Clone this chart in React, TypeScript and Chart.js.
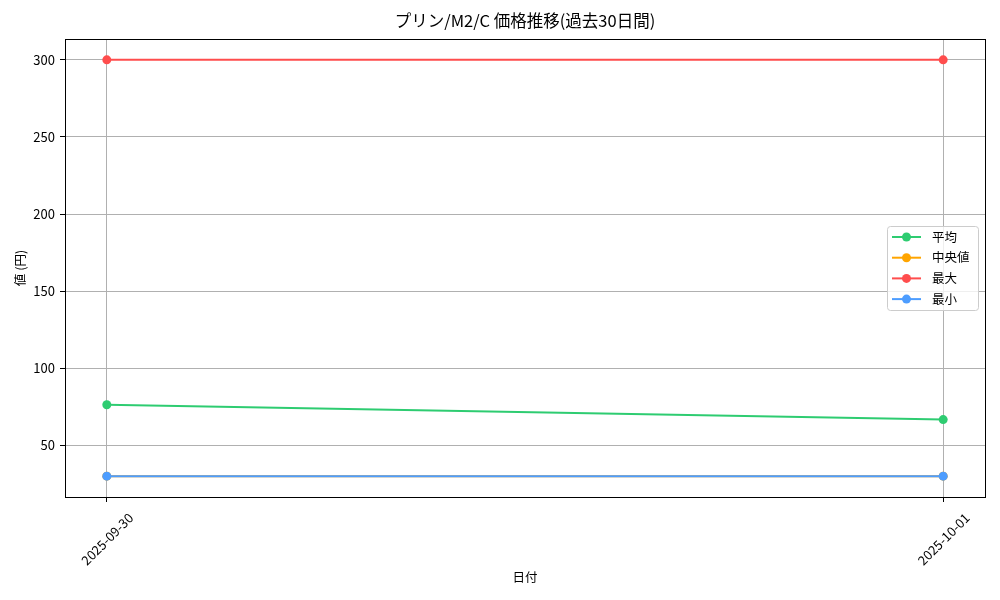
import { useEffect, useRef } from "react";
import { Chart, registerables } from "chart.js";

Chart.register(...registerables);

// data
const dates = ["2025-09-30", "2025-10-01"];
const avgValues = [76.3, 66.7];
const medianValues = [30, 30];
const maxValues = [300, 300];
const minValues = [30, 30];
const yTicks = [50, 100, 150, 200, 250, 300];

const seriesLabels = ["平均", "中央値", "最大", "最小"];
const seriesColors = ["#2ecc71", "#ffa500", "#ff4d4d", "#4d9dff"];

const TITLE = "プリン/M2/C 価格推移(過去30日間)";
const FONT = "'Noto Sans CJK JP', sans-serif";
const MARKER = 4.5;

// title centred over the plot area (matplotlib style)
const plotTitle = {
  id: "plotTitle",
  afterDraw(chart: any) {
    const { ctx, chartArea: a } = chart;
    ctx.save();
    ctx.font = `16.5px ${FONT}`;
    ctx.fillStyle = "#000";
    ctx.textAlign = "center";
    ctx.textBaseline = "middle";
    ctx.fillText(TITLE, (a.left + a.right) / 2, 21);
    ctx.restore();
  },
};

// frame around the plot, like matplotlib's spines
const framePlugin = {
  id: "frame",
  afterDraw(chart: any) {
    const { ctx, chartArea: a } = chart;
    ctx.save();
    ctx.strokeStyle = "#000";
    ctx.lineWidth = 1;
    ctx.strokeRect(Math.round(a.left) + 0.5, Math.round(a.top) + 0.5, Math.round(a.width), Math.round(a.height));
    ctx.restore();
  },
};

// legend inside the plot, right side, vertically centred
const insideLegend = {
  id: "insideLegend",
  afterDraw(chart: any) {
    const { ctx, chartArea: a } = chart;
    const rowH = 20.7;
    const w = 91;
    const h = 84;
    const x = a.right - 7 - w;
    const y = (a.top + a.bottom) / 2 - h / 2;
    ctx.save();
    ctx.beginPath();
    ctx.roundRect(x + 0.5, y + 0.5, w, h, 3);
    ctx.fillStyle = "rgba(255,255,255,0.8)";
    ctx.fill();
    ctx.strokeStyle = "#cccccc";
    ctx.lineWidth = 1;
    ctx.stroke();
    ctx.font = `12.5px ${FONT}`;
    ctx.textBaseline = "middle";
    seriesLabels.forEach((label, i) => {
      const cy = y + 11 + i * rowH;
      ctx.strokeStyle = seriesColors[i];
      ctx.lineWidth = 2;
      ctx.beginPath();
      ctx.moveTo(x + 5, cy);
      ctx.lineTo(x + 34, cy);
      ctx.stroke();
      ctx.beginPath();
      ctx.arc(x + 19.5, cy, MARKER, 0, Math.PI * 2);
      ctx.fillStyle = seriesColors[i];
      ctx.fill();
      ctx.fillStyle = "#000";
      ctx.fillText(label, x + 45, cy);
    });
    ctx.restore();
  },
};

export default function App() {
  const canvasRef = useRef<HTMLCanvasElement | null>(null);
  const chartRef = useRef<Chart | null>(null);

  useEffect(() => {
    if (!canvasRef.current) return;
    Chart.defaults.font.family = FONT;
    Chart.defaults.color = "#000";

    const toPoints = (vals: number[]) => vals.map((v, i) => ({ x: i, y: v }));
    const allSeries = [avgValues, medianValues, maxValues, minValues];

    const datasets = allSeries.map((vals, i) => ({
      label: seriesLabels[i],
      data: toPoints(vals),
      borderColor: seriesColors[i],
      backgroundColor: seriesColors[i],
      borderWidth: 2,
      pointRadius: MARKER,
      pointBorderWidth: 0,
      pointHoverRadius: MARKER,
      order: allSeries.length - i, // later series on top
    }));

    chartRef.current = new Chart(canvasRef.current, {
      type: "line",
      data: { datasets },
      options: {
        animation: false,
        responsive: false,
        layout: { padding: { left: 0, right: 15, top: 39, bottom: 0 } },
        plugins: {
          legend: { display: false },
          tooltip: { enabled: false },
          title: { display: false },
        },
        scales: {
          x: {
            type: "linear",
            min: -0.05,
            max: 1.05,
            afterBuildTicks: (axis: any) => {
              axis.ticks = dates.map((_, i) => ({ value: i }));
            },
            afterFit: (axis: any) => {
              axis.height = 103;
            },
            ticks: {
              autoSkip: false,
              minRotation: 45,
              maxRotation: 45,
              labelOffset: 24,
              padding: 8,
              font: { size: 13 },
              callback: (v: any) => dates[v] ?? "",
            },
            grid: { color: "#b0b0b0", tickColor: "#000", tickLength: 5, lineWidth: 1 },
            border: { display: false },
            title: { display: true, text: "日付", font: { size: 12.5 }, padding: { bottom: 15 } },
          },
          y: {
            type: "linear",
            min: 16.5,
            max: 313.5,
            afterBuildTicks: (axis: any) => {
              axis.ticks = yTicks.map((v) => ({ value: v }));
            },
            afterFit: (axis: any) => {
              axis.width = 65;
            },
            ticks: { padding: 5, font: { size: 13 } },
            grid: { color: "#b0b0b0", tickColor: "#000", tickLength: 5, lineWidth: 1 },
            border: { display: false },
            title: { display: true, text: "値 (円)", font: { size: 12.5 }, padding: { top: 13 } },
          },
        },
      } as any,
      plugins: [plotTitle, framePlugin, insideLegend],
    });

    return () => {
      chartRef.current?.destroy();
      chartRef.current = null;
    };
  }, []);

  return (
    <div style={{ position: "absolute", left: 0, top: 0, width: 1000, height: 600, background: "#fff" }}>
      <canvas ref={canvasRef} width={1000} height={600}></canvas>
    </div>
  );
}
